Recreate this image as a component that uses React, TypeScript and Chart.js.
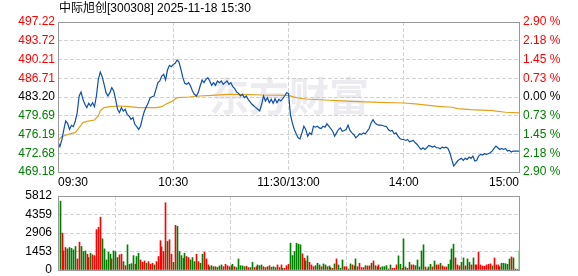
import React, { useEffect, useRef } from 'react';
import { Chart, registerables } from 'chart.js';

Chart.register(...registerables);

const TITLE = '中际旭创[300308] 2025-11-18 15:30';
const WATERMARK = '东方财富';
const PREV_CLOSE = 483.2;

const timeTickMinutes = [0, 60, 120, 180, 240];
const timeLabels = ['09:30', '10:30', '11:30/13:00', '14:00', '15:00'];

const priceTicks = [469.18, 472.68, 476.19, 479.69, 483.2, 486.71, 490.21, 493.72, 497.22];
const priceTickLabels = ['469.18', '472.68', '476.19', '479.69', '483.20', '486.71', '490.21', '493.72', '497.22'];
const pctTickLabels = ['2.90 %', '2.18 %', '1.45 %', '0.73 %', '0.00 %', '0.73 %', '1.45 %', '2.18 %', '2.90 %'];

const volumeTicks = [0, 1453, 2906, 4359, 5812];
const volumeTickLabels = ['0', '1453', '2906', '4359', '5812'];

// one price per minute, 09:30 .. 11:30, then 13:01 .. 15:00
const morningPrices = [
  474.80, 473.92, 475.17, 477.04, 478.72, 478.28, 477.16, 477.91, 477.66, 478.72,
  480.27, 483.39, 484.13, 482.76, 481.83, 481.21, 482.02, 481.52, 482.14, 481.39,
  483.39, 486.50, 487.87, 487.00, 485.57, 484.01, 483.39, 484.01, 484.94, 484.32,
  482.76, 480.90, 480.27, 481.21, 480.59, 480.90, 479.96, 479.65, 479.03, 479.34,
  478.09, 477.66, 477.16, 477.78, 479.34, 480.59, 481.39, 482.14, 483.08, 483.26,
  483.39, 484.63, 485.88, 486.19, 487.12, 487.43, 486.38, 488.24, 489.11, 488.87,
  489.30, 489.49, 490.11, 489.74, 488.37, 486.81, 485.75, 485.57, 485.88, 485.25,
  484.32, 483.70, 483.39, 484.01, 485.25, 486.38, 485.88, 486.50, 486.81, 486.19,
  485.38, 485.88, 485.38, 486.19, 485.88, 486.19, 485.57, 485.88, 486.19, 485.57,
  485.88, 485.13, 484.76, 484.13, 483.88, 483.39, 483.70, 483.08, 483.39, 482.76,
  482.27, 481.83, 481.52, 481.21, 480.90, 480.59, 481.83, 483.39, 482.45, 483.08,
  482.14, 482.76, 482.02, 482.89, 482.14, 482.76, 482.45, 482.89, 483.39, 484.01,
  483.88,
];
const afternoonPrices = [
  479.91, 478.36, 477.12, 476.32, 475.57, 475.39, 476.50, 477.74, 477.12, 475.88,
  476.50, 476.19, 477.74, 477.56, 477.74, 477.43, 477.31, 477.74, 477.56, 478.18,
  477.74, 477.31, 476.81, 475.88, 476.50, 477.12, 477.43, 476.81, 476.94, 477.12,
  477.93, 476.94, 476.50, 476.19, 475.57, 475.88, 476.32, 476.19, 476.50, 476.32,
  476.81, 477.31, 478.36, 478.98, 478.36, 478.05, 477.93, 477.93, 477.87, 477.74,
  477.68, 477.12, 476.81, 476.94, 476.32, 476.50, 475.88, 475.45, 475.26, 475.26,
  475.08, 475.26, 474.83, 474.95, 475.08, 474.64, 474.33, 473.84, 473.40, 473.71,
  473.40, 473.71, 474.15, 474.02, 473.84, 474.02, 473.71, 473.71, 473.53, 473.84,
  473.71, 473.84, 473.59, 472.78, 471.54, 470.30, 470.74, 471.23, 471.54, 471.73,
  471.36, 471.73, 471.54, 471.98, 471.73, 472.16, 471.23, 471.36, 472.16, 472.47,
  472.35, 472.60, 472.47, 472.60, 472.78, 473.09, 473.59, 474.02, 473.71, 473.40,
  473.59, 473.40, 473.59, 473.09, 473.22, 472.91, 473.09, 473.09, 473.09, 473.09,
];

// average price line, read at these minutes
const avgMinutes = [0, 1, 2, 4, 7, 9, 11, 13, 15, 19, 21, 22, 24, 27, 32, 37, 42, 51, 54, 56,
  59, 62, 68, 74, 80, 88, 96, 106, 120, 122, 125, 129, 139, 153, 167, 180, 186, 193, 198, 205,
  208, 215, 226, 233, 240];
const avgPrices = [474.98, 475.42, 475.79, 476.04, 476.41, 476.54, 477.47, 478.41, 478.65, 478.90,
  479.65, 480.59, 481.21, 481.39, 481.52, 481.39, 481.21, 481.21, 481.39, 481.83,
  482.33, 483.08, 483.20, 483.39, 483.51, 483.70, 483.70, 483.57, 483.51, 483.26,
  483.01, 482.83, 482.64, 482.39, 482.21, 482.08, 481.90, 481.65, 481.46, 481.28,
  481.03, 480.84, 480.66, 480.35, 480.23];

// volume per minute, 09:31 .. 15:00 ; 1 = up (red), 0 = down (green)
const volumes = [
  5410, 2900, 1500, 1770, 1660, 1770, 1700, 1580, 1850, 870,
  2190, 1850, 1450, 1500, 1240, 980, 1320, 1190, 1130, 3170,
  3350, 4150, 2450, 1660, 790, 1400, 1240, 870, 1500, 1450,
  980, 1190, 1240, 660, 340, 1980, 450, 500, 1130, 450,
  1060, 1320, 790, 610, 710, 530, 660, 450, 530, 400,
  660, 1060, 2300, 1820, 1450, 5280, 2240, 2380, 1240, 600,
  3510, 3430, 1450, 1130, 920, 1320, 1060, 980, 790, 980,
  660, 1240, 660, 530, 1240, 1400, 870, 400, 260, 340,
  260, 260, 200, 320, 400, 260, 450, 340, 260, 340,
  450, 260, 190, 870, 340, 320, 260, 300, 190, 190,
  610, 190, 260, 400, 340, 400, 260, 190, 260, 340,
  220, 260, 190, 400, 190, 400, 130, 130, 340, 450,
  2110, 1140, 1450, 2110, 2030, 1980, 1270, 920, 710, 1110,
  610, 400, 260, 340, 530, 400, 260, 480, 400, 260,
  320, 190, 130, 480, 870, 400, 130, 790, 260, 260,
  80, 480, 400, 320, 870, 260, 530, 190, 190, 340,
  320, 320, 530, 710, 340, 260, 400, 190, 260, 260,
  340, 80, 400, 130, 130, 400, 1110, 450, 130, 2450,
  240, 130, 610, 400, 400, 340, 790, 240, 1500, 1980,
  240, 80, 240, 450, 240, 710, 400, 400, 530, 320,
  240, 240, 450, 790, 1660, 2030, 950, 400, 320, 610,
  950, 320, 870, 610, 400, 950, 400, 400, 1400, 400,
  320, 300, 400, 450, 480, 320, 950, 400, 400, 260,
  530, 530, 500, 450, 870, 1030, 950, 80, 50, 1500,
];
const volumeUp = [
  0, 1, 1, 1, 0, 0, 0, 0, 0, 1,
  1, 0, 0, 0, 1, 1, 0, 1, 1, 1,
  1, 1, 0, 0, 0, 0, 0, 1, 0, 0,
  0, 1, 1, 0, 1, 0, 0, 0, 0, 1,
  0, 0, 1, 1, 1, 0, 1, 1, 1, 0,
  1, 1, 1, 1, 1, 1, 0, 1, 1, 0,
  1, 0, 0, 0, 0, 0, 1, 1, 0, 0,
  0, 1, 1, 0, 0, 1, 1, 1, 0, 0,
  0, 1, 0, 0, 0, 1, 1, 1, 0, 1,
  0, 1, 0, 0, 0, 0, 0, 1, 1, 0,
  0, 1, 1, 0, 0, 0, 1, 1, 0, 1,
  0, 0, 0, 1, 1, 1, 0, 1, 1, 1,
  0, 0, 0, 0, 0, 0, 1, 1, 0, 0,
  1, 1, 1, 0, 0, 0, 1, 0, 0, 1,
  0, 0, 1, 0, 1, 0, 0, 0, 1, 1,
  0, 0, 1, 0, 0, 1, 1, 1, 1, 0,
  1, 1, 0, 1, 0, 1, 1, 0, 0, 0,
  0, 1, 0, 1, 1, 1, 0, 0, 1, 0,
  0, 1, 0, 1, 1, 0, 0, 0, 0, 0,
  1, 1, 0, 0, 1, 0, 1, 1, 0, 1,
  1, 1, 0, 0, 0, 0, 1, 1, 1, 0,
  0, 1, 0, 0, 1, 0, 1, 1, 1, 1,
  1, 1, 1, 1, 1, 0, 1, 1, 1, 1,
  0, 0, 0, 0, 0, 1, 0, 1, 0, 0,
];

const prices = [...morningPrices, ...afternoonPrices];

const RED = '#ff0000';
const GREEN = '#008000';
const GRID = '#d2d2d2';
const FRAME = '#999999';
const FONT_FAMILY = '"Liberation Sans", Arial, "Noto Sans CJK SC", sans-serif';

function priceColor(v: number) {
  if (v > PREV_CLOSE + 0.005) return RED;
  if (v < PREV_CLOSE - 0.005) return GREEN;
  return '#000000';
}

const framePlugin = {
  id: 'frame',
  afterDraw(chart: any) {
    const { left, top, right, bottom } = chart.chartArea;
    const ctx = chart.ctx;
    ctx.save();
    ctx.strokeStyle = FRAME;
    ctx.lineWidth = 1;
    ctx.setLineDash([]);
    const l = Math.round(left) + 0.5;
    const t = Math.round(top) + 0.5;
    const r = Math.round(right) + 0.5;
    const b = Math.round(bottom) + 0.5;
    ctx.strokeRect(l, t, r - l, b - t);
    ctx.restore();
  },
};

const titlePlugin = {
  id: 'titleText',
  afterDraw(chart: any) {
    const ctx = chart.ctx;
    ctx.save();
    ctx.font = '12px ' + FONT_FAMILY;
    ctx.fillStyle = '#000';
    ctx.textAlign = 'left';
    ctx.textBaseline = 'middle';
    ctx.fillText(TITLE, 59, 9);
    ctx.restore();
  },
};

const watermarkPlugin = {
  id: 'watermark',
  beforeDatasetsDraw(chart: any) {
    const ctx = chart.ctx;
    ctx.save();
    ctx.font = 'bold 40px "Noto Sans CJK SC", sans-serif';
    ctx.fillStyle = 'rgba(200,200,212,0.35)';
    ctx.textAlign = 'center';
    ctx.textBaseline = 'middle';
    ctx.fillText(WATERMARK, 289, 96, 180);
    ctx.restore();
  },
};

// snap each 1px volume bar onto a whole pixel column
const snapBarsPlugin = {
  id: 'snapBars',
  afterDatasetsUpdate(chart: any) {
    const meta = chart.getDatasetMeta(0);
    meta.data.forEach((el: any) => {
      el.x = Math.round(el.x - 0.3) + 0.5;
      el.width = 1;
    });
  },
};

export default function App() {
  const mainRef = useRef<HTMLCanvasElement>(null);
  const volRef = useRef<HTMLCanvasElement>(null);

  useEffect(() => {
    Chart.defaults.font.family = FONT_FAMILY;
    Chart.defaults.font.size = 12;
    Chart.defaults.color = '#000';

    const font = { family: FONT_FAMILY, size: 12 };

    const main = new Chart(mainRef.current as HTMLCanvasElement, {
      type: 'line',
      data: {
        datasets: [
          {
            data: prices.map((p, i) => ({ x: i, y: p })),
            borderColor: '#0f4fa8',
            borderWidth: 1.2,
            pointRadius: 0,
            tension: 0,
            yAxisID: 'y',
            order: 1,
          },
          {
            data: avgMinutes.map((m, i) => ({ x: m, y: avgPrices[i] })),
            borderColor: '#e2a21c',
            borderWidth: 1.2,
            pointRadius: 0,
            tension: 0,
            yAxisID: 'y',
            order: 2,
          },
        ],
      },
      options: {
        animation: false,
        responsive: false,
        maintainAspectRatio: false,
        events: [],
        layout: { padding: { top: 22, left: 0, right: 0, bottom: 0 } },
        plugins: { legend: { display: false }, tooltip: { enabled: false } },
        scales: {
          x: {
            type: 'linear',
            min: 0,
            max: 240,
            afterBuildTicks: (s: any) => { s.ticks = timeTickMinutes.map((v) => ({ value: v })); },
            afterFit: (s: any) => { s.height = 18; },
            ticks: {
              autoSkip: false,
              maxRotation: 0,
              align: 'inner',
              padding: 3,
              color: '#000',
              font,
              callback: (_v: any, i: number) => timeLabels[i],
            },
            grid: { color: GRID, drawTicks: false, lineWidth: 1 },
            border: { display: false, dash: [4, 2] },
          },
          y: {
            position: 'left',
            min: priceTicks[0],
            max: priceTicks[priceTicks.length - 1],
            afterBuildTicks: (s: any) => { s.ticks = priceTicks.map((v) => ({ value: v })); },
            afterFit: (s: any) => { s.width = 58; },
            ticks: {
              autoSkip: false,
              padding: 3,
              font,
              color: (ctx: any) => priceColor(ctx.tick.value),
              callback: (_v: any, i: number) => priceTickLabels[i],
            },
            grid: { color: GRID, drawTicks: false, lineWidth: 1 },
            border: { display: false, dash: [4, 2] },
          },
          y2: {
            position: 'right',
            min: priceTicks[0],
            max: priceTicks[priceTicks.length - 1],
            afterBuildTicks: (s: any) => { s.ticks = priceTicks.map((v) => ({ value: v })); },
            afterFit: (s: any) => { s.width = 59; },
            ticks: {
              autoSkip: false,
              padding: 4,
              font,
              color: (ctx: any) => priceColor(ctx.tick.value),
              callback: (_v: any, i: number) => pctTickLabels[i],
            },
            grid: { display: false, drawTicks: false },
            border: { display: false },
          },
        },
      } as any,
      plugins: [watermarkPlugin, framePlugin, titlePlugin],
    });

    const vol = new Chart(volRef.current as HTMLCanvasElement, {
      type: 'bar',
      data: {
        datasets: [
          {
            data: volumes.map((v, i) => ({ x: i + 1, y: v })),
            backgroundColor: volumeUp.map((u) => (u ? RED : GREEN)),
            borderWidth: 0,
            barThickness: 1,
          },
        ],
      },
      options: {
        animation: false,
        responsive: false,
        maintainAspectRatio: false,
        events: [],
        layout: { padding: { top: 16, left: 0, right: 59, bottom: 20 } },
        plugins: { legend: { display: false }, tooltip: { enabled: false } },
        scales: {
          x: {
            type: 'linear',
            min: 0,
            max: 240,
            offset: false,
            afterBuildTicks: (s: any) => { s.ticks = timeTickMinutes.map((v) => ({ value: v })); },
            afterFit: (s: any) => { s.height = 0; },
            ticks: { display: false },
            grid: { color: GRID, drawTicks: false, lineWidth: 1 },
            border: { display: false, dash: [4, 2] },
          },
          y: {
            position: 'left',
            min: 0,
            max: volumeTicks[volumeTicks.length - 1],
            afterBuildTicks: (s: any) => { s.ticks = volumeTicks.map((v) => ({ value: v })); },
            afterFit: (s: any) => { s.width = 58; },
            ticks: {
              autoSkip: false,
              padding: 6,
              font,
              color: '#000',
              callback: (_v: any, i: number) => volumeTickLabels[i],
            },
            grid: { color: GRID, drawTicks: false, lineWidth: 1 },
            border: { display: false, dash: [4, 2] },
          },
        },
      } as any,
      plugins: [snapBarsPlugin, framePlugin],
    });

    return () => {
      main.destroy();
      vol.destroy();
    };
  }, []);

  return (
    <div style={{ position: 'absolute', left: 0, top: 0, width: 578, height: 276, overflow: 'hidden', background: '#fff' }}>
      <canvas ref={mainRef} width={578} height={190} style={{ position: 'absolute', left: 0, top: 0, width: 578, height: 190 }} />
      <canvas ref={volRef} width={578} height={110} style={{ position: 'absolute', left: 0, top: 180, width: 578, height: 110 }} />
    </div>
  );
}
